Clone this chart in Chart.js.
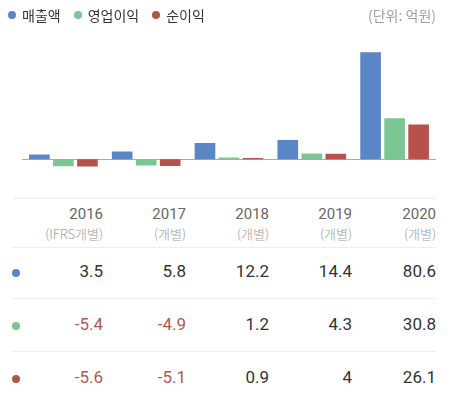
<!DOCTYPE html>
<html>
<head>
<meta charset="utf-8">
<script src="https://cdn.jsdelivr.net/npm/chart.js@4"></script>
<style>
  body { margin: 0; background: #fff; font-family: Roboto, "Noto Sans CJK KR", sans-serif; }
  #wrap { position: relative; width: 450px; height: 399px; overflow: hidden; }
  #chartBox { position: absolute; left: 0; top: 0; width: 450px; height: 190px; }
  .legend { position: absolute; top: 5px; left: 8px; font-size: 14px; color: #333; font-family: "Noto Sans CJK KR", sans-serif; }
  .legend span { margin-right: 13px; }
  .dot { display: inline-block; width: 8px; height: 8px; border-radius: 50%; margin-right: 6px; vertical-align: 2px; }
  .unit { position: absolute; top: 5px; right: 14px; font-size: 14px; color: #a0a0a0; font-family: "Noto Sans CJK KR", sans-serif; }
  .hline { position: absolute; left: 13px; width: 423px; height: 1px; background: #eee; }
  .cell { position: absolute; text-align: right; width: 80px; }
  .yr { font-size: 15px; color: #666; }
  .sub { font-size: 13px; color: #a0a0a0; font-family: "Noto Sans CJK KR", sans-serif; font-weight: 300; }
  .num { font-size: 17px; color: #333; }
  .neg { color: #b5574f; }
  .rdot { position: absolute; left: 12px; width: 8px; height: 8px; border-radius: 50%; }
</style>
</head>
<body>
<div id="wrap">
  <div id="chartBox"><canvas id="finChart"></canvas></div>
  <div class="legend" id="legend"></div>
  <div class="unit">(단위: 억원)</div>
  <div id="table"></div>
</div>
<script>
const years = ["2016", "2017", "2018", "2019", "2020"];
const subLabels = ["(IFRS개별)", "(개별)", "(개별)", "(개별)", "(개별)"];
const seriesNames = ["매출액", "영업이익", "순이익"];
const seriesColors = ["#5b86c6", "#7bc794", "#b5534a"];
const sales = [3.5, 5.8, 12.2, 14.4, 80.6];
const operatingProfit = [-5.4, -4.9, 1.2, 4.3, 30.8];
const netProfit = [-5.6, -5.1, 0.9, 4, 26.1];
const allSeries = [sales, operatingProfit, netProfit];

// legend
const legend = document.getElementById("legend");
seriesNames.forEach((name, i) => {
  legend.innerHTML += `<span><i class="dot" style="background:${seriesColors[i]}"></i>${name}</span>`;
});

// zero line under the bars
const zeroLine = {
  id: "zeroLine",
  beforeDatasetsDraw(chart) {
    const { ctx, chartArea, scales } = chart;
    const y = Math.round(scales.y.getPixelForValue(0)) + 0.5;
    ctx.save();
    ctx.strokeStyle = "#aaa";
    ctx.lineWidth = 1;
    ctx.beginPath();
    ctx.moveTo(chartArea.left, y);
    ctx.lineTo(chartArea.right, y);
    ctx.stroke();
    ctx.restore();
  },
};

new Chart(document.getElementById("finChart"), {
  type: "bar",
  data: {
    labels: years,
    datasets: allSeries.map((values, i) => ({
      label: seriesNames[i],
      data: values,
      backgroundColor: seriesColors[i],
      barPercentage: 0.86,
      categoryPercentage: 0.87,
    })),
  },
  options: {
    responsive: true,
    maintainAspectRatio: false,
    animation: false,
    layout: { padding: { left: 22, right: 14, top: 46.5, bottom: 11 } },
    plugins: { legend: { display: false }, tooltip: { enabled: false } },
    scales: {
      x: { display: false },
      y: { display: false, min: -15, max: 85 },
    },
  },
  plugins: [zeroLine],
});

// table below the chart
const table = document.getElementById("table");
let html = "";
[198, 247, 298, 351].forEach((y) => { html += `<div class="hline" style="top:${y}px"></div>`; });
const colRight = [103, 186, 269, 352, 436];
years.forEach((yr, i) => {
  const left = colRight[i] - 80;
  html += `<div class="cell yr" style="left:${left}px;top:205px">${yr}</div>`;
  html += `<div class="cell sub" style="left:${left}px;top:224px">${subLabels[i]}</div>`;
});
const rowTops = [261, 314, 367];
allSeries.forEach((values, r) => {
  html += `<div class="rdot" style="top:${rowTops[r] + 8}px;background:${seriesColors[r]}"></div>`;
  values.forEach((v, i) => {
    const left = colRight[i] - 80;
    html += `<div class="cell num${v < 0 ? " neg" : ""}" style="left:${left}px;top:${rowTops[r]}px">${v}</div>`;
  });
});
table.innerHTML = html;
</script>
</body>
</html>
